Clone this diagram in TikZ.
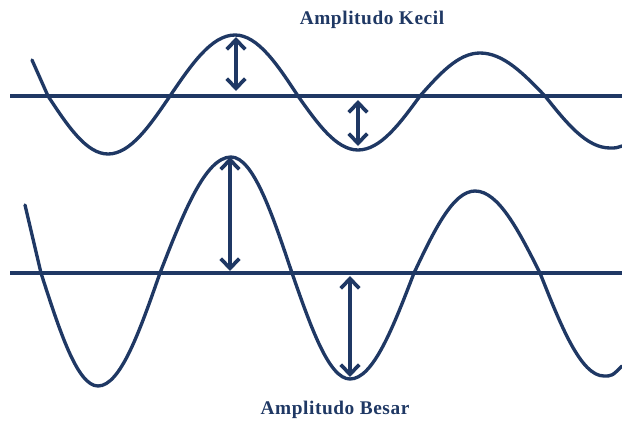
\documentclass[tikz,border=0pt]{standalone}
\usepackage{fontspec}
\setmainfont{Liberation Serif}
\usetikzlibrary{arrows.meta}
\definecolor{navy}{RGB}{31,56,100}
\tikzset{
  wave/.style={draw=navy, line width=1.9pt, line cap=round, line join=round},
  axisline/.style={draw=navy, line width=2.4pt},
  amparrow/.style={draw=navy, line width=2.1pt, {Straight Barb[length=5.5pt,width=10.5pt]}-{Straight Barb[length=5.5pt,width=10.5pt]}},
  lbl/.style={text=navy, font=\bfseries\fontsize{11}{13}\selectfont}
}
\begin{document}
\begin{tikzpicture}[x=0.02cm, y=-0.02cm]
\useasboundingbox (0,0) rectangle (622,423);
% axes
\coordinate (a1l) at (10,96);  \coordinate (a1r) at (622,96);
\coordinate (a2l) at (10,273); \coordinate (a2r) at (622,273);
\draw[axisline] (a1l) -- (a1r);
\draw[axisline] (a2l) -- (a2r);
% small amplitude wave
\draw[wave] (32,60) -- (48,96) sin (108,154) cos (170,96) sin (235,35) cos (298,96)
  sin (358,150) cos (420,96) sin (480,53) cos (545,96) sin (610,148) .. controls (616,148) .. (622,146);
% large amplitude wave
\draw[wave] (25,205) -- (41,273) sin (98,386) cos (160,273) sin (231,157) cos (292,273)
  sin (350,379) cos (414,273) sin (475,191) cos (540,273) sin (604,376) .. controls (612,376) .. (622,366);
% arrows
\coordinate (p1t) at (236,37);  \coordinate (p1b) at (236,91);
\coordinate (p2t) at (358,100); \coordinate (p2b) at (358,146);
\coordinate (p3t) at (230,157); \coordinate (p3b) at (230,271);
\coordinate (p4t) at (350,276); \coordinate (p4b) at (350,377);
\draw[amparrow] (p1t) -- (p1b);
\draw[amparrow] (p2t) -- (p2b);
\draw[amparrow] (p3t) -- (p3b);
\draw[amparrow] (p4t) -- (p4b);
% labels
\node[lbl] (kecil) at (372,20) {\addfontfeature{LetterSpace=3}Amplitudo Kecil};
\node[lbl] (besar) at (335,410) {\addfontfeature{LetterSpace=3}Amplitudo Besar};
\end{tikzpicture}
\end{document}
